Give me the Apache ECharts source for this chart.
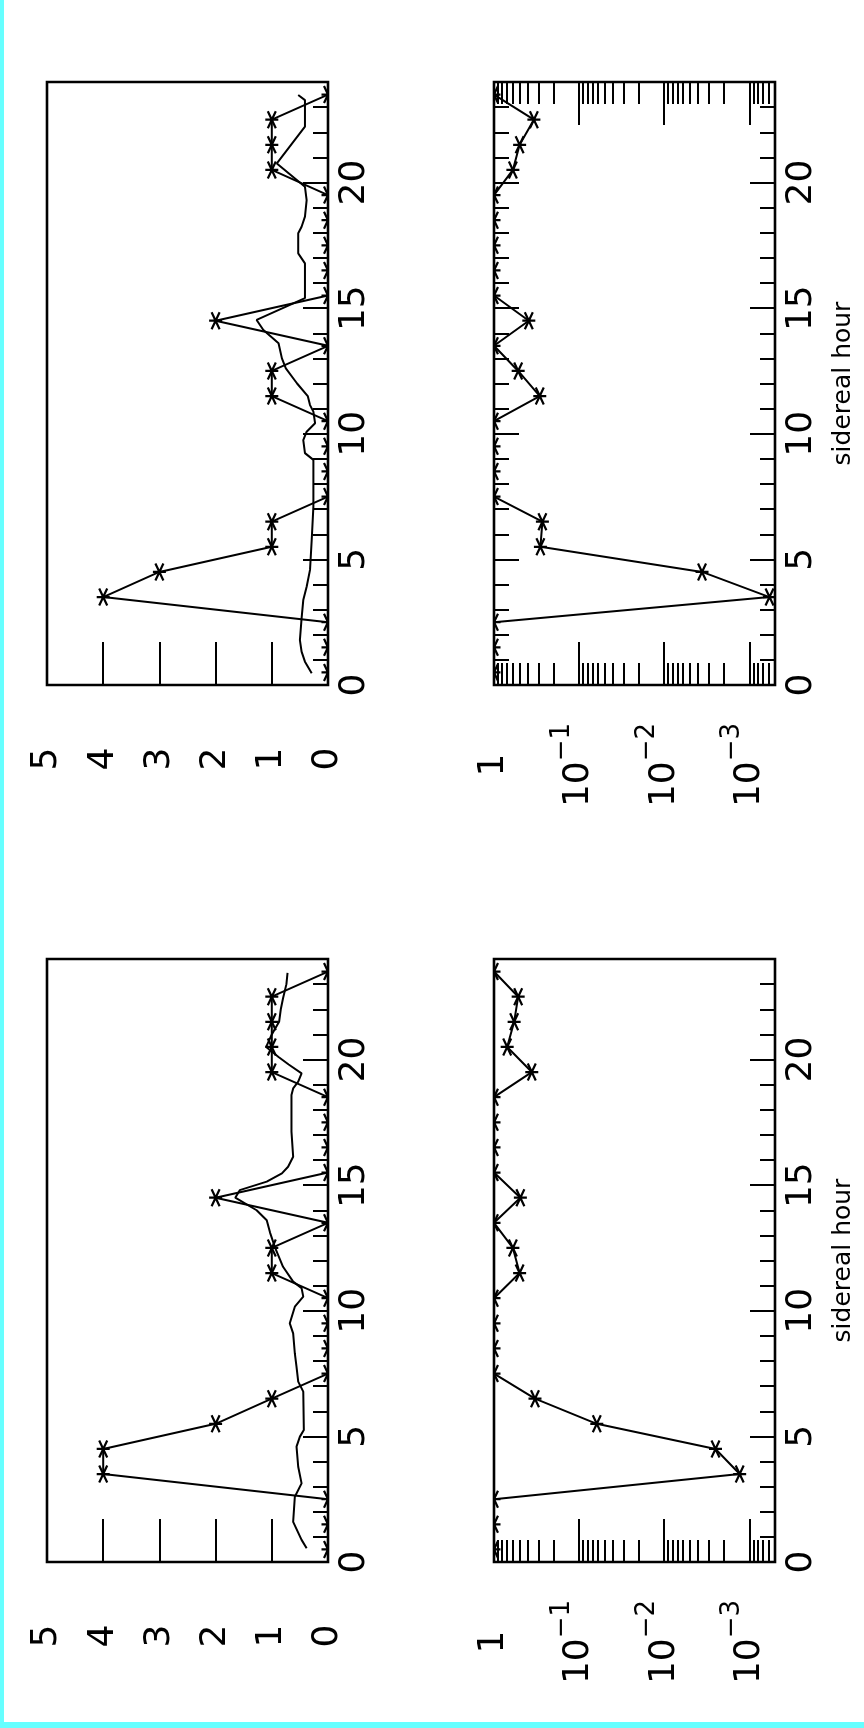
<!DOCTYPE html>
<html>
<head>
<meta charset="utf-8">
<script src="https://cdn.jsdelivr.net/npm/echarts@6/dist/echarts.min.js"></script>
<style>
html,body{margin:0;padding:0;background:#ffffff;}
#chart{width:864px;height:1728px;}
</style>
</head>
<body>
<div id="chart"></div>
<script>
// ---------------- data ----------------
// hourly bins (sidereal hour, bin centres)
const BIN_HOURS = [0.5,1.5,2.5,3.5,4.5,5.5,6.5,7.5,8.5,9.5,10.5,11.5,12.5,13.5,14.5,15.5,16.5,17.5,18.5,19.5,20.5,21.5,22.5,23.5];

// upper-left panel: observed counts per bin
const TOP_COUNTS    = [0,0,0,4,3,1,1,0,0,0,0,1,1,0,2,0,0,0,0,0,1,1,1,0];
// upper-left panel: expected background curve
const TOP_BG_HOURS  = [0.47,0.93,1.33,1.79,2.65,3.38,3.91,4.58,5.77,7.1,8.96,9.23,9.75,10.08,10.42,10.88,11.14,11.5,12.0,12.6,13.0,13.6,14.13,14.53,15.4,16.78,17.18,17.98,18.24,18.64,19.3,19.83,20.76,22.22,23.28,23.48];
const TOP_BG_VALUES = [0.29,0.41,0.47,0.50,0.47,0.44,0.38,0.32,0.29,0.26,0.26,0.41,0.44,0.38,0.23,0.26,0.32,0.36,0.55,0.75,0.82,0.88,1.15,1.27,0.41,0.41,0.53,0.53,0.47,0.41,0.38,0.41,0.91,0.41,0.41,0.53];
// upper-right panel: probability per bin
const TOP_PROB      = [1,1,1,5.8e-4,3.6e-3,0.285,0.27,1,1,1,1,0.29,0.52,1,0.39,1,1,1,1,1,0.60,0.50,0.34,1];

// lower-left panel: observed counts per bin
const BOT_COUNTS    = [0,0,0,4,4,2,1,0,0,0,0,1,1,0,2,0,0,0,0,1,1,1,1,0];
// lower-left panel: expected background curve
const BOT_BG_HOURS  = [0.55,0.88,1.6,2.6,3.13,3.79,4.59,4.99,5.25,6.78,7.18,7.77,8.3,9.1,9.5,10.16,10.56,10.9,11.16,11.75,12.5,13.1,13.6,14.0,14.5,14.8,15.14,15.47,15.73,16.13,17.13,18.59,18.85,19.12,19.45,19.8,20.1,20.5,21.0,21.5,22.0,22.44,23.0,23.45];
const BOT_BG_VALUES = [0.38,0.47,0.62,0.59,0.47,0.53,0.56,0.50,0.43,0.44,0.53,0.56,0.59,0.62,0.68,0.59,0.44,0.47,0.62,0.80,0.94,1.03,1.09,1.27,1.65,1.57,1.09,0.82,0.71,0.62,0.65,0.65,0.62,0.53,0.47,0.70,0.88,1.10,1.00,0.87,0.84,0.80,0.74,0.72];
// lower-right panel: probability per bin
const BOT_PROB      = [1,1,1,1.3e-3,2.5e-3,0.062,0.33,1,1,1,1,0.50,0.60,1,0.49,1,1,1,1,0.36,0.70,0.58,0.52,1];

// ticks and labels
const HOUR_LABELS      = [0,5,10,15,20];
const HOUR_MAJOR_TICKS = [5,10,15,20];
const HOUR_MINOR_TICKS = [1,2,3,4,6,7,8,9,11,12,13,14,16,17,18,19,21,22,23];
const COUNT_TICKS      = [0,1,2,3,4,5];
const LOG_MAJOR_TICKS  = [1,0.1,0.01,0.001];
const LOG_MINOR_TICKS  = [0.9,0.8,0.7,0.6,0.5,0.4,0.3,0.2,
                          0.09,0.08,0.07,0.06,0.05,0.04,0.03,0.02,
                          0.009,0.008,0.007,0.006,0.005,0.004,0.003,0.002,
                          0.0009,0.0008,0.0007,0.0006];
const HOUR_TITLE = 'sidereal hour';

// ---------------- styling / layout ----------------
const INK = '#000000';
const FONT = 'DejaVu Sans';
const PANELS = [
  {left: 47,  top: 82,  width: 281, height: 603},  // upper left (linear)
  {left: 494, top: 82,  width: 281, height: 603},  // upper right (log)
  {left: 47,  top: 959, width: 281, height: 603},  // lower left (linear)
  {left: 494, top: 959, width: 281, height: 603}   // lower right (log)
];
// asterisk marker drawn in a 13x17 box
const STAR = 'M0,8.5L13,8.5M2.5,0L10.5,17M10.5,0L2.5,17';

const tickLine = {color: INK, width: 2};
const noLine = {show: false, onZero: false};

function hourAxis(grid, side, ticks, len, withLabels, title) {
  return {
    type: 'value', gridIndex: grid, position: side, min: 0, max: 24,
    axisLine: noLine, splitLine: {show: false},
    axisTick: {show: true, inside: true, length: len, customValues: ticks, lineStyle: tickLine},
    axisLabel: withLabels ? {
      show: true, customValues: HOUR_LABELS, rotate: 90, align: 'center', verticalAlign: 'middle',
      margin: 27, fontSize: 36, color: INK, fontFamily: FONT
    } : {show: false},
    name: title || '', nameLocation: 'middle', nameRotate: 90, nameGap: 56,
    nameTextStyle: {fontSize: 25, color: INK, fontFamily: FONT}
  };
}

function countAxis(grid) {
  return {
    type: 'value', gridIndex: grid, position: 'bottom', min: 0, max: 5, inverse: true,
    axisLine: noLine, splitLine: {show: false},
    axisTick: {show: true, inside: true, length: 43, customValues: COUNT_TICKS, lineStyle: tickLine},
    axisLabel: {
      show: true, customValues: COUNT_TICKS, rotate: 90, align: 'center', verticalAlign: 'middle',
      margin: 74, fontSize: 36, color: INK, fontFamily: FONT
    }
  };
}

function logAxis(grid, side, ticks, len, withLabels) {
  return {
    type: 'log', logBase: 10, gridIndex: grid, position: side, min: 0.0005, max: 1, inverse: true,
    axisLine: noLine, splitLine: {show: false}, minorTick: {show: false},
    axisTick: {show: true, inside: true, length: len, customValues: ticks, lineStyle: tickLine},
    axisLabel: withLabels ? {
      show: true, customValues: LOG_MAJOR_TICKS, rotate: 90, align: 'center', verticalAlign: 'middle',
      margin: 80, color: INK, fontFamily: FONT,
      formatter: function (v) {
        const e = Math.round(Math.log10(v));
        return e === 0 ? '{b|1}' : '{b|10}{s|\u2212' + (-e) + '}';
      },
      rich: {
        b: {fontSize: 36, lineHeight: 60, color: INK, fontFamily: FONT},
        s: {fontSize: 26, lineHeight: 8, verticalAlign: 'top', color: INK, fontFamily: FONT}
      }
    } : {show: false}
  };
}

function pairs(xs, ys) { return xs.map(function (x, i) { return [x, ys[i]]; }); }

function lineSeries(xi, yi, data) {
  return {type: 'line', xAxisIndex: xi, yAxisIndex: yi, data: data, symbol: 'none',
          lineStyle: {color: INK, width: 2}, clip: true, animation: false, silent: true};
}
function starSeries(xi, yi, data) {
  return {
    type: 'custom', coordinateSystem: 'cartesian2d', xAxisIndex: xi, yAxisIndex: yi, data: data,
    clip: true, animation: false, silent: true,
    renderItem: function (params, api) {
      const p = api.coord([api.value(0), api.value(1)]);
      return {type: 'path', shape: {pathData: STAR, x: p[0] - 6.5, y: p[1] - 8.5, width: 13, height: 17},
              style: {stroke: INK, lineWidth: 2.2, fill: 'none'}};
    }
  };
}

const xAxes = [
  countAxis(0),                                    // 0 TL
  logAxis(1, 'bottom', LOG_MAJOR_TICKS, 43, true), // 1 TR
  logAxis(1, 'bottom', LOG_MINOR_TICKS, 22, false),// 2
  logAxis(1, 'top', LOG_MAJOR_TICKS, 43, false),   // 3
  logAxis(1, 'top', LOG_MINOR_TICKS, 22, false),   // 4
  countAxis(2),                                    // 5 BL
  logAxis(3, 'bottom', LOG_MAJOR_TICKS, 43, true), // 6 BR
  logAxis(3, 'bottom', LOG_MINOR_TICKS, 22, false) // 7
];
const yAxes = [
  hourAxis(0, 'right', HOUR_MAJOR_TICKS, 25, true),             // 0 TL
  hourAxis(0, 'right', HOUR_MINOR_TICKS, 15, false),            // 1
  hourAxis(1, 'right', HOUR_MAJOR_TICKS, 25, true, HOUR_TITLE), // 2 TR
  hourAxis(1, 'right', HOUR_MINOR_TICKS, 15, false),            // 3
  hourAxis(1, 'left', HOUR_MAJOR_TICKS, 25, false),             // 4
  hourAxis(1, 'left', HOUR_MINOR_TICKS, 15, false),             // 5
  hourAxis(2, 'right', HOUR_MAJOR_TICKS, 25, true),             // 6 BL
  hourAxis(2, 'right', HOUR_MINOR_TICKS, 15, false),            // 7
  hourAxis(3, 'right', HOUR_MAJOR_TICKS, 25, true, HOUR_TITLE), // 8 BR
  hourAxis(3, 'right', HOUR_MINOR_TICKS, 15, false)             // 9
];

const series = [
  // upper left
  lineSeries(0, 0, pairs(TOP_BG_VALUES, TOP_BG_HOURS)),
  lineSeries(0, 0, pairs(TOP_COUNTS, BIN_HOURS)),
  starSeries(0, 0, pairs(TOP_COUNTS, BIN_HOURS)),
  // upper right
  lineSeries(1, 2, pairs(TOP_PROB, BIN_HOURS)),
  starSeries(1, 2, pairs(TOP_PROB, BIN_HOURS)),
  // lower left
  lineSeries(5, 6, pairs(BOT_BG_VALUES, BOT_BG_HOURS)),
  lineSeries(5, 6, pairs(BOT_COUNTS, BIN_HOURS)),
  starSeries(5, 6, pairs(BOT_COUNTS, BIN_HOURS)),
  // lower right
  lineSeries(6, 8, pairs(BOT_PROB, BIN_HOURS)),
  starSeries(6, 8, pairs(BOT_PROB, BIN_HOURS))
];

const chart = echarts.init(document.getElementById('chart'), null, {renderer: 'canvas'});
chart.setOption({
  backgroundColor: '#ffffff',
  animation: false,
  textStyle: {fontFamily: FONT, color: INK},
  grid: PANELS.map(function (p) {
    return Object.assign({show: true, borderColor: INK, borderWidth: 2.6, backgroundColor: 'transparent',
                          containLabel: false, outerBoundsMode: 'none'}, p);
  }),
  xAxis: xAxes,
  yAxis: yAxes,
  series: series,
  graphic: [
    {type: 'rect', left: 0, top: 0, shape: {width: 4, height: 1728}, style: {fill: '#66ffff'}, silent: true},
    {type: 'rect', left: 0, top: 1722, shape: {width: 864, height: 6}, style: {fill: '#66ffff'}, silent: true}
  ]
});
</script>
</body>
</html>
